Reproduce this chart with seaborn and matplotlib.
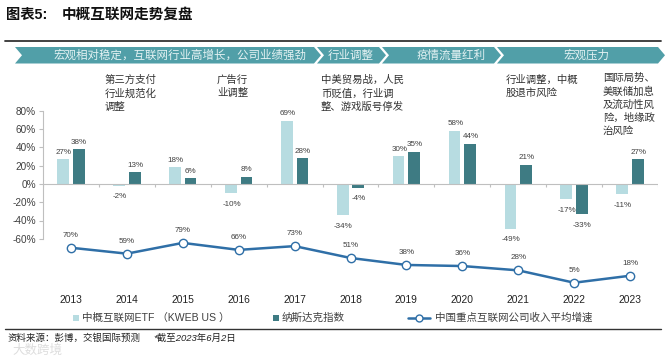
import numpy as np
import pandas as pd
import matplotlib
matplotlib.use("Agg")
import matplotlib.pyplot as plt
from matplotlib.patches import Polygon, Rectangle
from matplotlib.lines import Line2D
import seaborn as sns

# ---------------- data ----------------
years = ["2013", "2014", "2015", "2016", "2017", "2018", "2019", "2020", "2021", "2022", "2023"]
kweb = [27, -2, 18, -10, 69, -34, 30, 58, -49, -17, -11]
nasdaq = [38, 13, 6, 8, 28, -4, 35, 44, 21, -33, 27]
revenue_growth = [70, 59, 79, 66, 73, 51, 38, 36, 28, 5, 18]
series_names = ["中概互联网ETF （KWEB US ）", "纳斯达克指数"]
line_name = "中国重点互联网公司收入平均增速"
yticks = [-60, -40, -20, 0, 20, 40, 60, 80]

phases = ["宏观相对稳定，互联网行业高增长，公司业绩强劲", "行业调整", "疫情流量红利", "宏观压力"]
notes = [
    "第三方支付\n行业规范化\n调整",
    "广告行\n业调整",
    "中美贸易战，人民\n币贬值，行业调\n整、游戏版号停发",
    "行业调整，中概\n股退市风险",
    "国际局势、\n美联储加息\n及流动性风\n险，地缘政\n治风险",
]
title_prefix = "图表5:"
title_main = "中概互联网走势复盘"
source = "资料来源：彭博，交银国际预测"
note_date = "*截至2023年6月2日"

# ---------------- style ----------------
sns.set_theme(style="white")
plt.rcParams["font.family"] = ["Liberation Sans", "Noto Sans CJK SC", "DejaVu Sans"]

light = "#B7DCE1"
dark = "#3E7B83"
blue = "#2F6FA7"
banner = "#519FA8"
txt = "#404040"

W, H = 672, 359
fig = plt.figure(figsize=(W / 100, H / 100), dpi=100)
fig.patch.set_facecolor("white")

# overlay for decorations (pixel coordinates)
ob = fig.add_axes([0, 0, 1, 1], zorder=0)
ob.set_xlim(0, W)
ob.set_ylim(H, 0)
ob.axis("off")
ob.patch.set_alpha(0)

# main axes
ax_top, ax_bot = 110.7, 293.7
ax = fig.add_axes([43 / W, 1 - ax_bot / H, (658 - 43) / W, (ax_bot - ax_top) / H], zorder=2)
ax.patch.set_alpha(0)

df = pd.DataFrame({
    "year": years * 2,
    "value": kweb + nasdaq,
    "series": [series_names[0]] * len(years) + [series_names[1]] * len(years),
})
sns.barplot(data=df, x="year", y="value", hue="series", order=years, hue_order=series_names,
            palette=[light, dark], width=0.56, ax=ax, legend=False, saturation=1)
for p in ax.patches:
    w = p.get_width()
    c = p.get_x() + w / 2
    nw = 0.21
    p.set_x(c - nw / 2)
    p.set_width(nw)
    p.set_edgecolor("none")

ax.set_xlim(-0.5, len(years) - 0.5)
ax.set_ylim(-120, 80)
for s in ["top", "right", "bottom"]:
    ax.spines[s].set_visible(False)
ax.spines["left"].set_color("#BFBFBF")
ax.spines["left"].set_linewidth(0.8)
ax.spines["left"].set_bounds(-60, 80)
ax.set_yticks(yticks)
ax.set_yticklabels([f"{v}%" for v in yticks])
ax.tick_params(axis="y", length=3, width=0.8, color="#BFBFBF", labelsize=7.2, labelcolor=txt, pad=2)
ax.set_xticks(range(len(years)))
ax.set_xticklabels(years)
ax.tick_params(axis="x", length=0, labelsize=7.4, labelcolor="#222222", pad=1)
ax.set_xlabel("")
ax.set_ylabel("")
ax.axhline(0, color="#BFBFBF", lw=0.8, zorder=1)
ax.vlines(np.arange(-0.5, len(years)), -3, 0, color="#BFBFBF", lw=0.8)

# bar labels
for i, (a, b) in enumerate(zip(kweb, nasdaq)):
    for v, off in ((a, -0.125), (b, 0.145)):
        if v >= 0:
            ax.annotate(f"{v}%", (i + off, v), xytext=(0, 2.5), textcoords="offset points",
                        ha="center", va="bottom", fontsize=5.8, color=txt)
        else:
            ax.annotate(f"{v}%", (i + off, v), xytext=(0, -5.5), textcoords="offset points",
                        ha="center", va="top", fontsize=5.8, color=txt)

# line on secondary axis
ax2 = ax.twinx()
ax2.set_zorder(3)
x_pos = np.arange(len(years))
sns.lineplot(x=x_pos, y=revenue_growth, ax=ax2, color=blue, lw=1.8, marker="o", markersize=6,
             markerfacecolor="white", markeredgecolor=blue, markeredgewidth=1.0, legend=False)
ax2.set_ylim(-15.4, 324.6)
ax2.set_xlim(-0.5, len(years) - 0.5)
ax2.axis("off")
for i, v in enumerate(revenue_growth):
    ax2.annotate(f"{v}%", (i, v), xytext=(0, 6.5), textcoords="offset points",
                 ha="center", va="bottom", fontsize=5.8, color=txt)

# ---------------- title & frame lines ----------------
ob.text(6, 15, title_prefix, fontsize=10.3, fontweight="bold", color="#111111", va="center", ha="left")
ob.text(62, 15, title_main, fontsize=10.5, fontweight="bold", color="#111111", va="center", ha="left")
ob.plot([5, 661], [40.7, 40.7], color="#333333", lw=1.3)
ob.plot([5, 661], [329, 329], color="#333333", lw=1.0)

# ---------------- banner ----------------
top_y, bot_y, mid_y, d = 47, 63.5, 55.25, 7
segs = [(15, 314), (317, 379), (382, 494), (497, 658)]
centers = [180, 351, 451, 586]
for (xs, xe), lab, cx in zip(segs, phases, centers):
    poly = Polygon([(xs, top_y), (xe, top_y), (xe + d, mid_y), (xe, bot_y), (xs, bot_y), (xs + d, mid_y)],
                   closed=True, facecolor=banner, edgecolor="none")
    ob.add_patch(poly)
    ob.text(cx, mid_y, lab, fontsize=8.3, color="#E4F2F3", ha="center", va="center",
            family=["Noto Sans CJK SC", "DejaVu Sans"])

# ---------------- annotations ----------------
note_pos = [(105, 75), (217, 75), (321, 75), (506, 75), (603, 73)]
for (x, y), t in zip(note_pos, notes):
    ob.text(x, y, t, fontsize=7.5, color="#333333", ha="left", va="top", linespacing=1.38,
            family=["Noto Sans CJK SC", "DejaVu Sans"])

# ---------------- legend ----------------
ly = 317.5
ob.add_patch(Rectangle((73, ly - 3), 6, 6, facecolor=light, edgecolor="none"))
ob.text(82, ly, series_names[0], fontsize=7.6, color=txt, va="center", ha="left")
ob.add_patch(Rectangle((273, ly - 3), 6, 6, facecolor=dark, edgecolor="none"))
ob.text(282, ly, series_names[1], fontsize=7.6, color=txt, va="center", ha="left")
ob.add_line(Line2D([408, 430], [ly, ly], color=blue, lw=1.8))
ob.add_line(Line2D([419], [ly], color=blue, marker="o", markersize=5, markerfacecolor="white",
                   markeredgecolor=blue, markeredgewidth=1.0))
ob.text(435, ly, line_name, fontsize=7.6, color=txt, va="center", ha="left")

# ---------------- source ----------------
ob.text(7, 338.5, source, fontsize=6.8, color="#222222", va="center", ha="left", style="italic")
ob.text(153, 338.5, note_date, fontsize=6.8, color="#222222", va="center", ha="left", style="italic")
ob.text(12, 351, "大数跨境", fontsize=9, color="#D5D5D5", va="center", ha="left", alpha=0.8)

fig.savefig("out.png", dpi=100, facecolor="white")
